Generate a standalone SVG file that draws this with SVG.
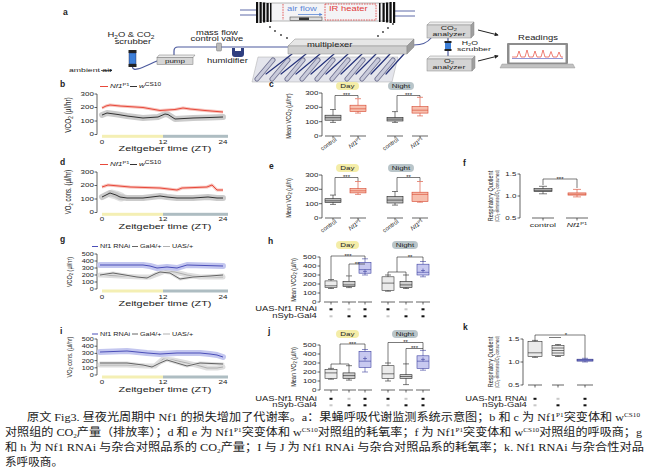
<svg xmlns="http://www.w3.org/2000/svg" width="650" height="476" viewBox="0 0 650 476">
<defs>
<marker id="ah" viewBox="0 0 6 6" refX="5" refY="3" markerWidth="4" markerHeight="4" orient="auto"><path d="M0,0 L6,3 L0,6 z" fill="#222"/></marker>
<marker id="ahb" viewBox="0 0 6 6" refX="5" refY="3" markerWidth="4" markerHeight="4" orient="auto"><path d="M0,0 L6,3 L0,6 z" fill="#5a86d6"/></marker>
</defs>
<style>
text{font-family:"Liberation Sans",Arial,sans-serif;fill:#222}
.lab{font-size:8.5px;font-weight:bold}
.t4{font-size:3.8px}
.t5{font-size:5px}
.t55{font-size:5.5px}
.t6{font-size:6px}
.t65{font-size:6.5px}
.t75{font-size:7.5px}
.m{text-anchor:middle}
.e{text-anchor:end}
.sx{transform-box:fill-box;transform:scaleX(1.45);transform-origin:left center}
.sx.m{transform-origin:center}
.sx.e{transform-origin:right center}
.sy{transform-box:fill-box;transform:scaleY(1.45);transform-origin:center}
.it{font-style:italic}
.fblue{fill:#5a86d6}
.fred{fill:#e03a3a}
.ax{fill:none;stroke:#222;stroke-width:.7}
.wk{fill:none;stroke:#222;stroke-width:.6}
.wr{fill:none;stroke:#d6442c;stroke-width:.6}
.wb{fill:none;stroke:#3c40a0;stroke-width:.6}
.fc{fill:#bdbdbd;stroke:#222;stroke-width:.6}
.fr{fill:#f7bfae;stroke:#d6442c;stroke-width:.6}
.fg{fill:#ebebeb;stroke:#333;stroke-width:.6}
.fd{fill:#d0d0d0;stroke:#222;stroke-width:.6}
.fb{fill:#c8c9f0;stroke:#3c40a0;stroke-width:.6}
.fn{fill:#7477c9;stroke:#2b2f80;stroke-width:.6}
.bandg{fill:none;stroke:#c2c2c2;stroke-width:6;stroke-linejoin:round;stroke-linecap:round;opacity:.85}
.bandr{fill:none;stroke:#f5b3aa;stroke-width:3;stroke-linejoin:round;opacity:.8}
.bandb{fill:none;stroke:#c3c6ef;stroke-width:6;stroke-linejoin:round;stroke-linecap:round}
.bandl{fill:none;stroke:#dedede;stroke-width:5;stroke-linejoin:round;stroke-linecap:round}
.lr{fill:none;stroke:#e8493b;stroke-width:1}
.lk{fill:none;stroke:#333;stroke-width:1}
.lb{fill:none;stroke:#4b4fb8;stroke-width:1}
.lg{fill:none;stroke:#555;stroke-width:.9}
.ll{fill:none;stroke:#a8a8a8;stroke-width:.9}
.yel{fill:#f4efb4}
.gry{fill:#aebdc2}
.day{fill:#f4eda8}
.ngt{fill:#b9c5c9}
.tube{fill:none;stroke:#4c5a9e;stroke-width:1.2;stroke-linecap:round}
.dot{fill:#333}
.on{fill:#111}
.off{fill:#c8c8c8}
.cap{font-family:"Liberation Serif","Noto Sans CJK SC",serif;font-size:11px;fill:#1a1a1a}
</style>
<rect width="650" height="476" fill="#fff"/>

<!-- ===== Panel a ===== -->
<g id="panel-a">
<text class="lab" x="63" y="15">a</text>
<text class="t6 sx" x="69" y="72.5">ambient air</text>
</g>

<g id="connectors">
<line x1="101" y1="70.5" x2="112" y2="70.5" stroke="#222" stroke-width=".7" marker-end="url(#ah)"/>
<path class="tube" d="M132.5,67 C133,73 145,66 157,61"/>
<path class="tube" d="M174,56 V51 Q174,47 178,47 H288"/>
<path class="tube" d="M414,45 C424,45 428,42 431,38"/>
<line class="tube" x1="448" y1="38" x2="448" y2="56"/>
<path d="M240,10 H256 M240,15 H256 M395,11 H415 M395,16 H415" fill="none" stroke="#4c5a9e" stroke-width=".9"/>
<line x1="478" y1="30" x2="498" y2="35" stroke="#222" stroke-width="1" marker-end="url(#ah)"/>
<line x1="478" y1="61" x2="498" y2="56" stroke="#222" stroke-width="1" marker-end="url(#ah)"/>
<g class="dot">
<circle cx="270" cy="27" r=".9"/><circle cx="275" cy="31" r=".9"/><circle cx="281" cy="35" r=".9"/><circle cx="287" cy="38" r=".9"/>
<circle cx="393" cy="24" r=".9"/><circle cx="388" cy="28" r=".9"/><circle cx="383" cy="32" r=".9"/><circle cx="378" cy="36" r=".9"/>
</g>
</g>

<g id="node-tube">
<rect x="262" y="3" width="128" height="18" fill="#f4f4f6" stroke="#888" stroke-width=".6"/>
<g fill="#111">
<rect x="256" y="2" width="2.2" height="21"/><rect x="259.5" y="2" width="2.2" height="21"/><rect x="263" y="2.5" width="2.2" height="20"/><rect x="266.5" y="3" width="2.2" height="19"/><rect x="270" y="3" width="1.5" height="19"/>
<rect x="379" y="3" width="1.5" height="19"/><rect x="382.5" y="3" width="2.2" height="19"/><rect x="386" y="2.5" width="2.2" height="20"/><rect x="389.5" y="2" width="2.2" height="21"/><rect x="393" y="2" width="2.2" height="21"/>
</g>
<line x1="283" y1="4" x2="283" y2="20" stroke="#e03a3a" stroke-width=".8" stroke-dasharray="1.6 1"/>
<rect x="325" y="4" width="51" height="16" fill="none" stroke="#e03a3a" stroke-width=".8" stroke-dasharray="1.6 1"/>
<text class="t65 sx fblue" x="287" y="11">air flow</text>
<line x1="298" y1="14.5" x2="322" y2="14.5" stroke="#5a86d6" stroke-width=".8" marker-end="url(#ahb)"/>
<text class="t65 sx fred" x="329" y="11">IR heater</text>
<rect x="290" y="17" width="32" height="3.5" fill="#ddd" stroke="#333" stroke-width=".5"/>
<rect x="299" y="17.5" width="10" height="2.5" fill="#333"/>
</g>

<g id="node-scrubber">
<text class="t65 m sx" x="131" y="37.5">H<tspan font-size="4.5" dy="1.2">2</tspan><tspan dy="-1.2">O &amp; CO</tspan><tspan font-size="4.5" dy="1.2">2</tspan></text>
<text class="t65 m sx" x="133" y="44">scrubber</text>
<rect x="128.5" y="50" width="8" height="3" fill="#222"/>
<rect x="129" y="53" width="7" height="11" fill="#3d7fd8" stroke="#224" stroke-width=".4"/>
<rect x="128.5" y="64" width="8" height="3" fill="#222"/>
</g>

<g id="node-pump">
<polygon points="159,55 195,55 193,57.5 157,57.5" fill="#ececec" stroke="#777" stroke-width=".5"/>
<rect x="157" y="57.5" width="36" height="7" fill="#d6d6d6" stroke="#777" stroke-width=".5"/>
<text class="t55 m sx" x="175" y="63">pump</text>
</g>

<g id="node-valve">
<text class="t65 m sx" x="217" y="35">mass flow</text>
<text class="t65 m sx" x="217" y="41.5">control valve</text>
<rect x="216.5" y="43" width="5" height="8" rx="1" fill="#bbb" stroke="#555" stroke-width=".4"/>
</g>

<g id="node-humidifier">
<path d="M232,48 h3 v3 h6 v-3 h3 v6 q0,3 -3,3 h-6 q-3,0 -3,-3 z" fill="#2f3f80"/>
<text class="t65 m sx" x="227.5" y="63.5">humidifier</text>
</g>

<g id="node-chambers">
<polygon points="258,57 398,57 392,82 252,82" fill="#e4e5ec" stroke="#aaa" stroke-width=".5"/>
<g fill="none" stroke-linecap="round">
<path d="M257,79 L273,60 M272,79 L288,60 M287,79 L303,60 M302,79 L318,60 M317,79 L333,60 M332,79 L348,60 M347,79 L363,60 M362,79 L378,60 M377,79 L393,60" stroke="#6e7090" stroke-width="5"/>
<path d="M257,79 L273,60 M272,79 L288,60 M287,79 L303,60 M302,79 L318,60 M317,79 L333,60 M332,79 L348,60 M347,79 L363,60 M362,79 L378,60 M377,79 L393,60" stroke="#c9cbdb" stroke-width="3.4"/>
<path d="M292,54 L266,74 M306,54 L281,74 M320,54 L296,74 M334,54 L311,74 M348,54 L326,74 M362,54 L341,74 M376,54 L356,74 M390,54 L371,74 M404,54 L386,74" stroke="#25327a" stroke-width="1.2"/>
</g>
</g>

<g id="node-multiplexer">
<polygon points="295,39 414,39 407,46 288,46" fill="#e6e6e6" stroke="#888" stroke-width=".5"/>
<polygon points="288,46 407,46 407,54 288,54" fill="#cfcfcf" stroke="#888" stroke-width=".5"/>
<polygon points="407,46 414,39 414,47 407,54" fill="#9c9c9c" stroke="#888" stroke-width=".5"/>
<text class="t65 sx" x="307" y="47">multiplexer</text>
</g>

<g id="node-co2-analyzer">
<polygon points="430,22 474,22 471,25 427,25" fill="#ececec" stroke="#888" stroke-width=".5"/>
<rect x="427" y="25" width="44" height="13" fill="#d4d4d4" stroke="#888" stroke-width=".5"/>
<polygon points="471,25 474,22 474,35 471,38" fill="#a0a0a0" stroke="#888" stroke-width=".5"/>
<text class="t6 m sx" x="449" y="30">CO<tspan font-size="4" dy="1">2</tspan></text>
<text class="t6 m sx" x="449" y="36.5">analyzer</text>
</g>

<g id="node-h2o-scrubber">
<rect x="444.5" y="41" width="7" height="2" fill="#222"/>
<rect x="445" y="43" width="6" height="6" fill="#3d7fd8"/>
<rect x="444.5" y="49" width="7" height="2" fill="#222"/>
<text class="t6 m sx" x="470" y="45">H<tspan font-size="4" dy="1">2</tspan><tspan dy="-1">O</tspan></text>
<text class="t6 m sx" x="474" y="51.5">scrubber</text>
</g>

<g id="node-o2-analyzer">
<polygon points="430,56 475,56 472,59 427,59" fill="#ececec" stroke="#888" stroke-width=".5"/>
<rect x="427" y="59" width="45" height="12" fill="#d4d4d4" stroke="#888" stroke-width=".5"/>
<polygon points="472,59 475,56 475,68 472,71" fill="#a0a0a0" stroke="#888" stroke-width=".5"/>
<text class="t6 m sx" x="449" y="63">O<tspan font-size="4" dy="1">2</tspan></text>
<text class="t6 m sx" x="449" y="69.5">analyzer</text>
</g>

<g id="node-laptop">
<text class="t65 m sx" x="538" y="40.5">Readings</text>
<rect x="507" y="43" width="61" height="21" rx="1" fill="#8d8d8d"/>
<rect x="509.5" y="45" width="56" height="17.5" fill="#fff"/>
<line x1="512" y1="58.5" x2="563" y2="58.5" stroke="#4b4fb8" stroke-width=".6"/>
<polyline points="512,57 517,57 519,51 521,57 525,57 527,50 529,57 533,57 535,51 537,57 541,57 543,50 545,57 549,57 551,51.5 553,57 557,57 559,52 561,57 563,57" fill="none" stroke="#e8493b" stroke-width=".7"/>
<polygon points="502,64 573,64 575,68 500,68" fill="#c2c2c2" stroke="#888" stroke-width=".4"/>
</g>

<!-- ===== Panel b ===== -->
<g id="panel-b">
<text class="lab" x="60" y="87">b</text>
<line x1="100" y1="86.5" x2="108" y2="86.5" class="lr"/>
<text class="t55 sx" x="110" y="88.5"><tspan class="it">Nf1</tspan><tspan font-size="4" dy="-2">P1</tspan></text>
<line x1="130" y1="86.5" x2="137" y2="86.5" class="lk"/>
<text class="t55 sx" x="139" y="88.5"><tspan class="it">w</tspan><tspan font-size="4.5" dy="-2">CS10</tspan></text>
<g transform="translate(70,115) rotate(-90)"><text class="t65 m sy" x="0" y="0">VCO<tspan font-size="4.5" dy="1.2">2</tspan><tspan dy="-1.2"> (µl/hr)</tspan></text></g>
<path class="ax" d="M97,94 V134.5 M94.5,94 H97 M94.5,107.5 H97 M94.5,121 H97 M94.5,134.5 H97"/>
<text class="t55 e sx" x="94" y="96">300</text>
<text class="t55 e sx" x="94" y="109.5">200</text>
<text class="t55 e sx" x="94" y="123">100</text>
<text class="t55 e sx" x="94" y="136.5">0</text>
<rect class="yel" x="102" y="134.8" width="61" height="3"/>
<rect class="gry" x="163" y="134.8" width="65" height="3"/>
<polyline class="bandg" points="102,115 107,113 118,114.5 127,116 143,118 158,117 165,114 168,114.5 175,119 193,118 210,117.5 223,117"/>
<polyline class="lk" points="102,115 107,113 118,114.5 127,116 143,118 158,117 165,114 168,114.5 175,119 193,118 210,117.5 223,117"/>
<polyline class="bandr" points="102,108 106,106 110,105 120,106 143,107.5 160,110.5 175,109.5 183,108 190,109 205,110.5 223,112"/>
<polyline class="lr" points="102,108 106,106 110,105 120,106 143,107.5 160,110.5 175,109.5 183,108 190,109 205,110.5 223,112"/>
<text class="t55 m sx" x="102" y="144">0</text>
<text class="t55 m sx" x="163" y="144">12</text>
<text class="t55 m sx" x="223" y="144">24</text>
<text class="t75 m sx" x="165" y="151.5">Zeitgeber time (ZT)</text>
</g>

<!-- ===== Panel c ===== -->
<g id="panel-c">
<text class="lab" x="269" y="87">c</text>
<rect class="day" x="336" y="82" width="23" height="8" rx="4"/>
<text class="t55 m sx" x="347.5" y="88">Day</text>
<rect class="ngt" x="388" y="82" width="26" height="8" rx="4"/>
<text class="t55 m sx" x="401" y="88">Night</text>
<g transform="translate(290,116) rotate(-90)"><text class="t55 m sy" x="0" y="0">Mean VCO<tspan font-size="4" dy="1.2">2</tspan><tspan dy="-1.2"> (µl/hr)</tspan></text></g>
<path class="ax" d="M322,93 V136 M319,93 H322 M319,107.3 H322 M319,121.7 H322 M319,136 H322"/>
<text class="t55 e sx" x="318.5" y="95">300</text>
<text class="t55 e sx" x="318.5" y="109.3">200</text>
<text class="t55 e sx" x="318.5" y="123.7">100</text>
<text class="t55 e sx" x="318.5" y="138">0</text>
<path class="ax" d="M325,136 H341 M333,136 V138.5 M350,136 H366 M358,136 V138.5 M387,136 H403 M395,136 V138.5 M412,136 H428 M420,136 V138.5"/>
<path class="wk" d="M333,109.5 V122.4 M330,109.5 H336 M330,122.4 H336"/>
<rect class="fc" x="325" y="115.2" width="16" height="5"/>
<line class="wk" x1="325" y1="117.7" x2="341" y2="117.7"/>
<path class="wr" d="M358,98.7 V113.1 M355,98.7 H361 M355,113.1 H361"/>
<rect class="fr" x="350" y="105.2" width="16" height="6.4"/>
<line class="wr" x1="350" y1="108.8" x2="366" y2="108.8"/>
<path class="wk" d="M395,111.6 V122.4 M392,111.6 H398 M392,122.4 H398"/>
<rect class="fc" x="387" y="117.4" width="16" height="3.6"/>
<line class="wk" x1="387" y1="119.1" x2="403" y2="119.1"/>
<path class="wr" d="M420,97.3 V115.9 M417,97.3 H423 M417,115.9 H423"/>
<rect class="fr" x="412" y="106.6" width="16" height="6.5"/>
<line class="wr" x1="412" y1="110.2" x2="428" y2="110.2"/>
<path class="wk" d="M335,109 V95.5 H358 V98 M397,111 V95.5 H420 V97"/>
<text class="t6 m" x="346.5" y="97">***</text>
<text class="t6 m" x="408.5" y="97">***</text>
<text class="t6 e" transform="translate(337,140.5) rotate(-35)">control</text>
<text class="t6 e" transform="translate(362,140.5) rotate(-35)"><tspan class="it">Nf1</tspan><tspan font-size="4" dy="-2">P1</tspan></text>
<text class="t6 e" transform="translate(399,140.5) rotate(-35)">control</text>
<text class="t6 e" transform="translate(424,140.5) rotate(-35)"><tspan class="it">Nf1</tspan><tspan font-size="4" dy="-2">P1</tspan></text>
</g>

<!-- ===== Panel d ===== -->
<g id="panel-d">
<text class="lab" x="60" y="165">d</text>
<line x1="100" y1="164.5" x2="108" y2="164.5" class="lr"/>
<text class="t55 sx" x="110" y="166.5"><tspan class="it">Nf1</tspan><tspan font-size="4" dy="-2">P1</tspan></text>
<line x1="130" y1="164.5" x2="137" y2="164.5" class="lk"/>
<text class="t55 sx" x="139" y="166.5"><tspan class="it">w</tspan><tspan font-size="4.5" dy="-2">CS10</tspan></text>
<g transform="translate(70,192) rotate(-90)"><text class="t6 m sy" x="0" y="0">VO<tspan font-size="4.2" dy="1.2">2</tspan><tspan dy="-1.2"> cons. (µl/hr)</tspan></text></g>
<path class="ax" d="M97,172 V212.5 M94.5,172 H97 M94.5,185.5 H97 M94.5,199 H97 M94.5,212.5 H97"/>
<text class="t55 e sx" x="94" y="174">300</text>
<text class="t55 e sx" x="94" y="187.5">200</text>
<text class="t55 e sx" x="94" y="201">100</text>
<text class="t55 e sx" x="94" y="214.5">0</text>
<rect class="yel" x="102" y="212.8" width="61" height="3"/>
<rect class="gry" x="163" y="212.8" width="65" height="3"/>
<polyline class="bandg" points="102,197 110,193 116,195 120,197 127,198 143,198 160,196 167,197 177,198 193,198 208,197 217,198 223,198"/>
<polyline class="bandg" style="stroke-width:9;opacity:.5" points="112,194 116,195 121,197"/>
<polyline class="lk" points="102,197 110,193 116,195 120,197 127,198 143,198 160,196 167,197 177,198 193,198 208,197 217,198 223,198"/>
<polyline class="bandr" points="102,187 108,185 130,187 160,188 177,190 182,188 195,187.5 207,187 212,185 217,190 223,190"/>
<polyline class="lr" points="102,187 108,185 130,187 160,188 177,190 182,188 195,187.5 207,187 212,185 217,190 223,190"/>
<text class="t55 m sx" x="102" y="221">0</text>
<text class="t55 m sx" x="163" y="221">12</text>
<text class="t55 m sx" x="223" y="221">24</text>
<text class="t75 m sx" x="165" y="229">Zeitgeber time (ZT)</text>
</g>

<!-- ===== Panel e ===== -->
<g id="panel-e">
<text class="lab" x="269" y="169">e</text>
<rect class="day" x="336" y="164" width="23" height="8" rx="4"/>
<text class="t55 m sx" x="347.5" y="170">Day</text>
<rect class="ngt" x="388" y="164" width="26" height="8" rx="4"/>
<text class="t55 m sx" x="401" y="170">Night</text>
<g transform="translate(290,198) rotate(-90)"><text class="t55 m sy" x="0" y="0">Mean VO<tspan font-size="4" dy="1.2">2</tspan><tspan dy="-1.2"> (µl/h)</tspan></text></g>
<path class="ax" d="M322,175 V218 M319,175 H322 M319,189.3 H322 M319,203.7 H322 M319,218 H322"/>
<text class="t55 e sx" x="318.5" y="177">300</text>
<text class="t55 e sx" x="318.5" y="191.3">200</text>
<text class="t55 e sx" x="318.5" y="205.7">100</text>
<text class="t55 e sx" x="318.5" y="220">0</text>
<path class="ax" d="M325,218 H341 M333,218 V220.5 M350,218 H366 M358,218 V220.5 M387,218 H403 M395,218 V220.5 M412,218 H428 M420,218 V220.5"/>
<path class="wk" d="M333,195.1 V204.4 M330,195.1 H336 M330,204.4 H336"/>
<rect class="fc" x="325" y="198.7" width="16" height="3.8"/>
<line class="wk" x1="325" y1="200.8" x2="341" y2="200.8"/>
<path class="wr" d="M358,181.5 V194.4 M355,181.5 H361 M355,194.4 H361"/>
<rect class="fr" x="350" y="188.6" width="16" height="4.3"/>
<line class="wr" x1="350" y1="190.8" x2="366" y2="190.8"/>
<path class="wk" d="M395,191.5 V205.1 M392,191.5 H398 M392,205.1 H398"/>
<rect class="fc" x="387" y="196.5" width="16" height="6.5"/>
<line class="wk" x1="387" y1="200.1" x2="403" y2="200.1"/>
<path class="wr" d="M420,181.5 V202.2 M417,181.5 H423 M417,202.2 H423"/>
<rect class="fr" x="412" y="192.2" width="16" height="9.3"/>
<line class="wr" x1="412" y1="194.4" x2="428" y2="194.4"/>
<path class="wk" d="M335,195 V177.5 H358 V181 M397,191 V177.5 H420 V181"/>
<text class="t6 m" x="346.5" y="179">***</text>
<text class="t6 m" x="408.5" y="179">**</text>
<text class="t6 e" transform="translate(337,222.5) rotate(-35)">control</text>
<text class="t6 e" transform="translate(362,222.5) rotate(-35)"><tspan class="it">Nf1</tspan><tspan font-size="4" dy="-2">P1</tspan></text>
<text class="t6 e" transform="translate(399,222.5) rotate(-35)">control</text>
<text class="t6 e" transform="translate(424,222.5) rotate(-35)"><tspan class="it">Nf1</tspan><tspan font-size="4" dy="-2">P1</tspan></text>
</g>

<!-- ===== Panel f ===== -->
<g id="panel-f">
<text class="lab" x="463" y="166">f</text>
<g transform="translate(492,196) rotate(-90)"><text class="t55 m sy" x="0" y="0">Respiratory Quotient</text></g>
<g transform="translate(498.5,196) rotate(-90)"><text class="t4 m sy" x="0" y="0">(CO<tspan font-size="2.8" dy=".8">2</tspan><tspan dy="-.8"> eliminated/O</tspan><tspan font-size="2.8" dy=".8">2</tspan><tspan dy="-.8"> consumed)</tspan></text></g>
<path class="ax" d="M520,174 V218 M517.5,174 H520 M517.5,196 H520 M517.5,218 H520"/>
<text class="t55 e sx" x="516.5" y="176">1.5</text>
<text class="t55 e sx" x="516.5" y="198">1.0</text>
<text class="t55 e sx" x="516.5" y="220">0.5</text>
<path class="ax" d="M532,218 H554 M543,218 V220.5 M566,218 H588 M577,218 V220.5"/>
<path class="wk" d="M543,186.3 V193.8 M539,186.3 H547 M539,193.8 H547"/>
<rect class="fc" x="534" y="188.5" width="18" height="3.1"/>
<line class="wk" x1="534" y1="190.3" x2="552" y2="190.3"/>
<path class="wr" d="M577,189.4 V196.9 M573,189.4 H581 M573,196.9 H581"/>
<rect class="fr" x="568" y="192.9" width="18" height="2.2"/>
<line class="wr" x1="568" y1="194.2" x2="586" y2="194.2"/>
<path class="wk" d="M543,185 V179 H577 V188"/>
<text class="t6 m" x="560" y="180.5">***</text>
<text class="t6 m sx" x="543" y="227">control</text>
<text class="t6 m sx" x="577" y="227"><tspan class="it">Nf1</tspan><tspan font-size="4" dy="-2">P1</tspan></text>
</g>

<!-- ===== Panel g ===== -->
<g id="panel-g">
<text class="lab" x="60" y="242">g</text>
<line x1="92" y1="246.5" x2="98" y2="246.5" class="lb"/>
<text class="t5 sx" x="100" y="248.5">Nf1 RNAi</text>
<line x1="132" y1="246.5" x2="138" y2="246.5" class="lg"/>
<text class="t5 sx" x="140" y="248.5">Gal4/+</text>
<line x1="163" y1="246.5" x2="170" y2="246.5" class="ll"/>
<text class="t5 sx" x="172" y="248.5">UAS/+</text>
<g transform="translate(71,272) rotate(-90)"><text class="t55 m sy" x="0" y="0">VCO<tspan font-size="4" dy="1.2">2</tspan><tspan dy="-1.2"> (µl/hr)</tspan></text></g>
<path class="ax" d="M97,254 V289 M94.5,254 H97 M94.5,261 H97 M94.5,268 H97 M94.5,275 H97 M94.5,282 H97 M94.5,289 H97"/>
<text class="t5 e sx" x="94" y="256">500</text>
<text class="t5 e sx" x="94" y="263">400</text>
<text class="t5 e sx" x="94" y="270">300</text>
<text class="t5 e sx" x="94" y="277">200</text>
<text class="t5 e sx" x="94" y="284">100</text>
<text class="t5 e sx" x="94" y="291">0</text>
<rect class="yel" x="102" y="289.5" width="61" height="3"/>
<rect class="gry" x="163" y="289.5" width="65" height="3"/>
<polyline class="bandl" points="100,275 120,276 140,277 150,277 158,274 165,271 175,272 187,275 200,277 223,277"/>
<polyline class="ll" points="100,275 120,276 140,277 150,277 158,274 165,271 175,272 187,275 200,277 223,277"/>
<polyline class="bandl" style="stroke-width:3" points="100,275 113,273 125,275 137,277 147,278 155,274 160,272 170,273 180,279 193,277 210,276 223,275"/>
<polyline class="lg" points="100,275 113,273 125,275 137,277 147,278 155,274 160,272 170,273 180,279 193,277 210,276 223,275"/>
<polyline class="bandb" points="100,265 127,265 143,265 150,266 157,268 167,267 177,268 187,265 205,265.5 223,266"/>
<polyline class="lb" points="100,265 127,265 143,265 150,266 157,268 167,267 177,268 187,265 205,265.5 223,266"/>
<text class="t55 m sx" x="102" y="299">0</text>
<text class="t55 m sx" x="163" y="299">12</text>
<text class="t55 m sx" x="223" y="299">24</text>
<text class="t75 m sx" x="165" y="306.5">Zeitgeber time (ZT)</text>
</g>

<!-- ===== Panel h ===== -->
<g id="panel-h">
<text class="lab" x="268" y="244">h</text>
<rect class="day" x="336" y="241" width="23" height="8" rx="4"/>
<text class="t55 m sx" x="347.5" y="247">Day</text>
<rect class="ngt" x="392" y="241" width="26" height="8" rx="4"/>
<text class="t55 m sx" x="405" y="247">Night</text>
<g transform="translate(295,280) rotate(-90)"><text class="t55 m sy" x="0" y="0">Mean VCO<tspan font-size="4" dy="1.2">2</tspan><tspan dy="-1.2"> (µl/h)</tspan></text></g>
<path class="ax" d="M320,257 V302 M317.5,257 H320 M317.5,266 H320 M317.5,275 H320 M317.5,284 H320 M317.5,293 H320 M317.5,302 H320"/>
<text class="t55 e sx" x="316.5" y="259">500</text>
<text class="t55 e sx" x="316.5" y="268">400</text>
<text class="t55 e sx" x="316.5" y="277">300</text>
<text class="t55 e sx" x="316.5" y="286">200</text>
<text class="t55 e sx" x="316.5" y="295">100</text>
<text class="t55 e sx" x="316.5" y="304">0</text>
<path class="ax" d="M324,302 H338 M331,302 V304.5 M342,302 H356 M349,302 V304.5 M358,302 H372 M365,302 V304.5 M381,302 H395 M388,302 V304.5 M399,302 H413 M406,302 V304.5 M416,302 H430 M423,302 V304.5"/>
<path class="wk" d="M331,279.5 V288.5 M328,279.5 H334 M328,288.5 H334"/>
<rect class="fg" x="325" y="280.9" width="12" height="6.7"/>
<line class="wk" x1="325" y1="285.8" x2="337" y2="285.8"/>
<path class="wk" d="M349,275.9 V287.6 M346,275.9 H352 M346,287.6 H352"/>
<rect class="fd" x="343" y="281.3" width="12" height="5.4"/>
<line class="wk" x1="343" y1="284.9" x2="355" y2="284.9"/>
<path class="wb" d="M365,258.8 V275 M362,258.8 H368 M362,275 H368"/>
<rect class="fb" x="359" y="262.4" width="12" height="10.8"/>
<line class="wb" x1="359" y1="269.6" x2="371" y2="269.6"/>
<path class="wb" d="M363,271.4 H367 M365,269.4 V273.4"/>
<path class="wk" d="M388,275 V291.2 M385,275 H391 M385,291.2 H391"/>
<rect class="fg" x="382" y="276.8" width="12" height="13.5"/>
<line class="wk" x1="382" y1="283.1" x2="394" y2="283.1"/>
<path class="wk" d="M406,275 V288.5 M403,275 H409 M403,288.5 H409"/>
<rect class="fd" x="400" y="281.3" width="12" height="6.3"/>
<line class="wk" x1="400" y1="284.9" x2="412" y2="284.9"/>
<path class="wb" d="M423,261.5 V276.8 M420,261.5 H426 M420,276.8 H426"/>
<rect class="fb" x="417" y="264.2" width="12" height="10.8"/>
<line class="wb" x1="417" y1="272.3" x2="429" y2="272.3"/>
<path class="wb" d="M421,270.5 H425 M423,268.5 V272.5"/>
<path class="wk" d="M331,279 V256 H365 V258.8 M349,275.5 V264 H365 M388,275 V272 H406 V275 M397,272 V257 H423 V261.5"/>
<text class="t6 m" x="348" y="257.5">***</text>
<text class="t6 m" x="357" y="265.5">**</text>
<text class="t6 m" x="410" y="258.5">**</text>
<text class="t65 e sx" x="317" y="311.5">UAS-Nf1 RNAi</text>
<text class="t65 e sx" x="317" y="318.5">nSyb-Gal4</text>
<rect class="on" x="329.5" y="308.3" width="3" height="2"/>
<rect class="off" x="347.5" y="308.3" width="3" height="2"/>
<rect class="on" x="363.5" y="308.3" width="3" height="2"/>
<rect class="on" x="386.5" y="308.3" width="3" height="2"/>
<rect class="off" x="404.5" y="308.3" width="3" height="2"/>
<rect class="on" x="421.5" y="308.3" width="3" height="2"/>
<rect class="off" x="329.5" y="315.3" width="3" height="2"/>
<rect class="on" x="347.5" y="315.3" width="3" height="2"/>
<rect class="on" x="363.5" y="315.3" width="3" height="2"/>
<rect class="off" x="386.5" y="315.3" width="3" height="2"/>
<rect class="on" x="404.5" y="315.3" width="3" height="2"/>
<rect class="on" x="421.5" y="315.3" width="3" height="2"/>
</g>

<!-- ===== Panel i ===== -->
<g id="panel-i">
<text class="lab" x="60" y="334">i</text>
<line x1="92" y1="334" x2="98" y2="334" class="lb"/>
<text class="t5 sx" x="100" y="336">Nf1 RNAi</text>
<line x1="132" y1="334" x2="138" y2="334" class="lg"/>
<text class="t5 sx" x="140" y="336">Gal4/+</text>
<line x1="163" y1="334" x2="170" y2="334" class="ll"/>
<text class="t5 sx" x="172" y="336">UAS/+</text>
<g transform="translate(71,357) rotate(-90)"><text class="t55 m sy" x="0" y="0">VO<tspan font-size="4" dy="1.2">2</tspan><tspan dy="-1.2"> cons. (µl/hr)</tspan></text></g>
<path class="ax" d="M97,339 V375 M94.5,339 H97 M94.5,346.2 H97 M94.5,353.4 H97 M94.5,360.6 H97 M94.5,367.8 H97 M94.5,375 H97"/>
<text class="t5 e sx" x="94" y="341">500</text>
<text class="t5 e sx" x="94" y="348.2">400</text>
<text class="t5 e sx" x="94" y="355.4">300</text>
<text class="t5 e sx" x="94" y="362.6">200</text>
<text class="t5 e sx" x="94" y="369.8">100</text>
<text class="t5 e sx" x="94" y="377">0</text>
<rect class="yel" x="102" y="375.5" width="61" height="3"/>
<rect class="gry" x="163" y="375.5" width="65" height="3"/>
<polyline class="bandl" points="100,365 127,365 145,366 155,366 163,359 173,360 187,363 200,366 207,368 217,368 223,367"/>
<polyline class="ll" points="100,365 127,365 145,366 155,366 163,359 173,360 187,363 200,366 207,368 217,368 223,367"/>
<polyline class="bandl" style="stroke-width:3" points="100,363 127,363 143,365 152,367 160,363 167,360 177,363 187,366 200,363 223,364"/>
<polyline class="lg" points="100,363 127,363 143,365 152,367 160,363 167,360 177,363 187,366 200,363 223,364"/>
<polyline class="bandb" points="100,352 127,351 147,353 160,354 177,353 187,353 200,353 210,354 217,355 223,357"/>
<polyline class="lb" points="100,352 127,351 147,353 160,354 177,353 187,353 200,353 210,354 217,355 223,357"/>
<text class="t55 m sx" x="102" y="384">0</text>
<text class="t55 m sx" x="163" y="384">12</text>
<text class="t55 m sx" x="223" y="384">24</text>
<text class="t75 m sx" x="165" y="392">Zeitgeber time (ZT)</text>
</g>

<!-- ===== Panel j ===== -->
<g id="panel-j">
<text class="lab" x="268" y="334">j</text>
<rect class="day" x="336" y="330" width="23" height="8" rx="4"/>
<text class="t55 m sx" x="347.5" y="336">Day</text>
<rect class="ngt" x="392" y="330" width="26" height="8" rx="4"/>
<text class="t55 m sx" x="405" y="336">Night</text>
<g transform="translate(295,367) rotate(-90)"><text class="t55 m sy" x="0" y="0">Mean VO<tspan font-size="4" dy="1.2">2</tspan><tspan dy="-1.2"> (µl/h)</tspan></text></g>
<path class="ax" d="M320,345 V390 M317.5,345 H320 M317.5,354 H320 M317.5,363 H320 M317.5,372 H320 M317.5,381 H320 M317.5,390 H320"/>
<text class="t55 e sx" x="316.5" y="347">500</text>
<text class="t55 e sx" x="316.5" y="356">400</text>
<text class="t55 e sx" x="316.5" y="365">300</text>
<text class="t55 e sx" x="316.5" y="374">200</text>
<text class="t55 e sx" x="316.5" y="383">100</text>
<text class="t55 e sx" x="316.5" y="392">0</text>
<path class="ax" d="M324,390 H338 M331,390 V392.5 M342,390 H356 M349,390 V392.5 M358,390 H372 M365,390 V392.5 M381,390 H395 M388,390 V392.5 M399,390 H413 M406,390 V392.5 M416,390 H430 M423,390 V392.5"/>
<path class="wk" d="M331,368.4 V379.2 M328,368.4 H334 M328,379.2 H334"/>
<rect class="fg" x="325" y="369.3" width="12" height="9"/>
<line class="wk" x1="325" y1="372.9" x2="337" y2="372.9"/>
<path class="wk" d="M349,365.7 V380.1 M346,365.7 H352 M346,380.1 H352"/>
<rect class="fd" x="343" y="372.9" width="12" height="5.4"/>
<line class="wk" x1="343" y1="375.6" x2="355" y2="375.6"/>
<path class="wb" d="M365,349.5 V372 M362,349.5 H368 M362,372 H368"/>
<rect class="fb" x="359" y="351.3" width="12" height="16.2"/>
<line class="wb" x1="359" y1="361.2" x2="371" y2="361.2"/>
<path class="wb" d="M363,358.5 H367 M365,356.5 V360.5"/>
<path class="wk" d="M388,363 V381 M385,363 H391 M385,381 H391"/>
<rect class="fg" x="382" y="365.7" width="12" height="12.6"/>
<line class="wk" x1="382" y1="373.8" x2="394" y2="373.8"/>
<path class="wk" d="M406,363.9 V384.6 M403,363.9 H409 M403,384.6 H409"/>
<rect class="fd" x="400" y="374.7" width="12" height="3.6"/>
<line class="wk" x1="400" y1="376.5" x2="412" y2="376.5"/>
<path class="wb" d="M423,350.4 V370.2 M420,350.4 H426 M420,370.2 H426"/>
<rect class="fb" x="417" y="355.8" width="12" height="12.6"/>
<line class="wb" x1="417" y1="361.2" x2="429" y2="361.2"/>
<path class="wb" d="M421,359.4 H425 M423,357.4 V361.4"/>
<path class="wk" d="M331,368 V364 H349 V365.7 M340,364 V344 H365 V349.5 M388,363 V342.5 H423 V350.4 M406,363.9 V348.5 H423"/>
<text class="t6 m" x="352.5" y="345.5">***</text>
<text class="t6 m" x="405.5" y="344">**</text>
<text class="t6 m" x="414.5" y="350">***</text>
<text class="t65 e sx" x="317" y="401">UAS-Nf1 RNAi</text>
<text class="t65 e sx" x="317" y="407.5">nSyb-Gal4</text>
<rect class="on" x="329.5" y="397.8" width="3" height="2"/>
<rect class="off" x="347.5" y="397.8" width="3" height="2"/>
<rect class="on" x="363.5" y="397.8" width="3" height="2"/>
<rect class="on" x="386.5" y="397.8" width="3" height="2"/>
<rect class="off" x="404.5" y="397.8" width="3" height="2"/>
<rect class="on" x="421.5" y="397.8" width="3" height="2"/>
<rect class="off" x="329.5" y="404.3" width="3" height="2"/>
<rect class="on" x="347.5" y="404.3" width="3" height="2"/>
<rect class="on" x="363.5" y="404.3" width="3" height="2"/>
<rect class="off" x="386.5" y="404.3" width="3" height="2"/>
<rect class="on" x="404.5" y="404.3" width="3" height="2"/>
<rect class="on" x="421.5" y="404.3" width="3" height="2"/>
</g>

<!-- ===== Panel k ===== -->
<g id="panel-k">
<text class="lab" x="463" y="330">k</text>
<g transform="translate(492,362) rotate(-90)"><text class="t55 m sy" x="0" y="0">Respiratory Quotient</text></g>
<g transform="translate(498.5,362) rotate(-90)"><text class="t4 m sy" x="0" y="0">(CO<tspan font-size="2.8" dy=".8">2</tspan><tspan dy="-.8"> eliminated/O</tspan><tspan font-size="2.8" dy=".8">2</tspan><tspan dy="-.8"> consumed)</tspan></text></g>
<path class="ax" d="M523,339 V385 M520.5,339 H523 M520.5,362 H523 M520.5,385 H523"/>
<text class="t55 e sx" x="519.5" y="341">1.5</text>
<text class="t55 e sx" x="519.5" y="364">1.0</text>
<text class="t55 e sx" x="519.5" y="387">0.5</text>
<path class="ax" d="M528,385 H542 M535,385 V387.5 M552,385 H564 M558,385 V387.5 M577,385 H593 M585,385 V387.5"/>
<path class="wk" d="M535,340.4 V357.4 M532,340.4 H538 M532,357.4 H538"/>
<rect class="fg" x="528" y="341.3" width="14" height="15.2"/>
<line class="wk" x1="528" y1="352.8" x2="542" y2="352.8"/>
<path class="wk" d="M558,344.5 V356.5 M555,344.5 H561 M555,356.5 H561"/>
<rect class="fg" x="552" y="345.4" width="12" height="10.2"/>
<path class="wk" d="M552,348 H564 M552,350.5 H564 M552,353 H564"/>
<path class="wb" d="M585,358.3 V362 M582,358.3 H588 M582,362 H588"/>
<rect class="fn" x="577" y="359.2" width="16" height="1.9"/>
<path class="wk" d="M535,340.4 V335 H585 V358.3 M549,337.5 H561"/>
<text class="t6 m" x="566" y="337">*</text>
<text class="t65 e sx" x="527" y="401">UAS-Nf1 RNAi</text>
<text class="t65 e sx" x="527" y="407.5">nSyb-Gal4</text>
<rect class="on" x="533.5" y="397.8" width="3" height="2"/>
<rect class="off" x="556.5" y="397.8" width="3" height="2"/>
<rect class="on" x="583.5" y="397.8" width="3" height="2"/>
<rect class="off" x="533.5" y="404.3" width="3" height="2"/>
<rect class="on" x="556.5" y="404.3" width="3" height="2"/>
<rect class="on" x="583.5" y="404.3" width="3" height="2"/>
</g>

<!-- ===== Caption ===== -->
<g id="caption">
<text class="cap" x="27" y="421" textLength="613" lengthAdjust="spacingAndGlyphs">原文 Fig3. 昼夜光周期中 Nf1 的损失增加了代谢率。a：果蝇呼吸代谢监测系统示意图；b 和 c 为 Nf1<tspan font-size="6.5" dy="-4.5">P1</tspan><tspan dy="4.5">突变体和 w</tspan><tspan font-size="6.5" dy="-4.5">CS10</tspan></text>
<text class="cap" x="5" y="436" textLength="637" lengthAdjust="spacingAndGlyphs">对照组的 CO<tspan font-size="6.5" dy="2">2</tspan><tspan dy="-2">产量（排放率）；d 和 e 为 Nf1</tspan><tspan font-size="6.5" dy="-4.5">P1</tspan><tspan dy="4.5">突变体和 w</tspan><tspan font-size="6.5" dy="-4.5">CS10</tspan><tspan dy="4.5">对照组的耗氧率；f 为 Nf1</tspan><tspan font-size="6.5" dy="-4.5">P1</tspan><tspan dy="4.5">突变体和 w</tspan><tspan font-size="6.5" dy="-4.5">CS10</tspan><tspan dy="4.5">对照组的呼吸商；g</tspan></text>
<text class="cap" x="5" y="451" textLength="639" lengthAdjust="spacingAndGlyphs">和 h 为 Nf1 RNAi 与杂合对照品系的 CO<tspan font-size="6.5" dy="2">2</tspan><tspan dy="-2">产量；I 与 J 为 Nf1 RNAi 与杂合对照品系的耗氧率；k. Nf1 RNAi 与杂合性对品</tspan></text>
<text class="cap" x="5" y="466" textLength="58" lengthAdjust="spacingAndGlyphs">系呼吸商。</text>
</g>
</svg>
